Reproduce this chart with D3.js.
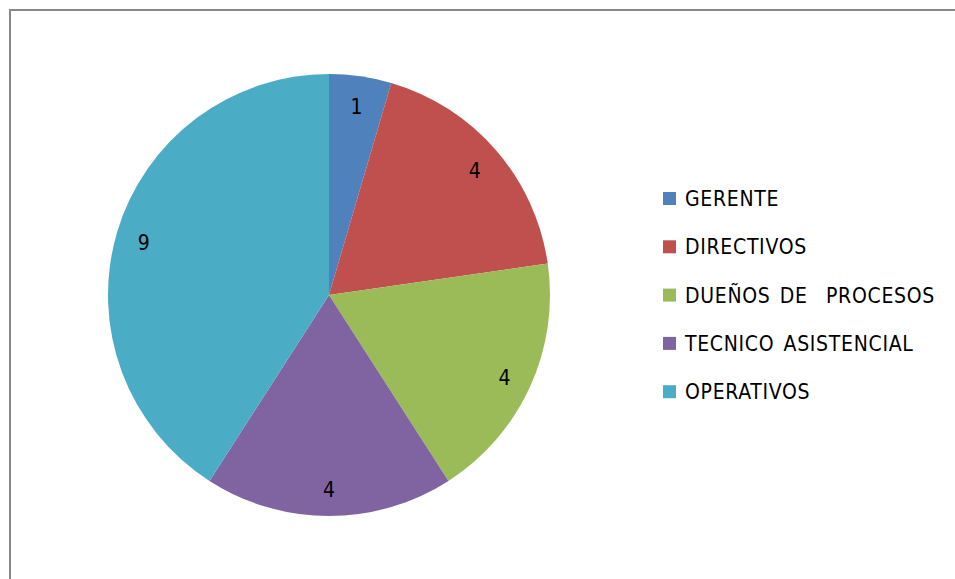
<!DOCTYPE html>
<html>
<head>
<meta charset="utf-8">
<script src="https://cdn.jsdelivr.net/npm/d3@7"></script>
<style>
  html, body { margin: 0; padding: 0; background: #fff; }
  svg { display: block; }
  text { font-family: "DejaVu Sans Condensed", "DejaVu Sans", sans-serif; font-stretch: condensed; fill: #000; }
</style>
</head>
<body>
<svg id="chart" width="955" height="579"></svg>
<script>
// Staff distribution by role
const categories = ["GERENTE", "DIRECTIVOS", "DUEÑOS DE  PROCESOS", "TECNICO ASISTENCIAL", "OPERATIVOS"];
const values = [1, 4, 4, 4, 9];
const colors = ["#4F81BD", "#C0504D", "#9BBB59", "#8064A2", "#4BACC6"];

const svg = d3.select("#chart");
const W = 955, H = 579;

// chart frame (runs off the right and bottom edges)
svg.append("rect")
  .attr("x", 10).attr("y", 10)
  .attr("width", W + 20).attr("height", H + 20)
  .attr("fill", "#fff")
  .attr("stroke", "#888").attr("stroke-width", 2);

const cx = 329, cy = 295, r = 221;
const data = categories.map((c, i) => ({ name: c, value: values[i], color: colors[i] }));

const pie = d3.pie().sort(null).value(d => d.value);
const arc = d3.arc().innerRadius(0).outerRadius(r);
const labelArc = d3.arc().innerRadius(r * 0.873).outerRadius(r * 0.873);

const g = svg.append("g").attr("transform", `translate(${cx},${cy})`);
const arcs = pie(data);

g.selectAll("path.slice")
  .data(arcs)
  .join("path")
  .attr("class", "slice")
  .attr("d", arc)
  .attr("fill", d => d.data.color);

g.selectAll("text.val")
  .data(arcs)
  .join("text")
  .attr("class", "val")
  .attr("transform", d => { const [x, y] = labelArc.centroid(d); return `translate(${x},${y + 2})`; })
  .attr("text-anchor", "middle")
  .attr("dy", "0.36em")
  .style("font-size", "21px")
  .text(d => d.data.value);

// legend
const lx = 663, ly = 192, step = 48.3, box = 13;
const leg = svg.append("g");
const items = leg.selectAll("g.item")
  .data(data)
  .join("g")
  .attr("class", "item")
  .attr("transform", (d, i) => `translate(${lx},${ly + i * step})`);
items.append("rect")
  .attr("width", box).attr("height", box)
  .attr("fill", d => d.color);
items.append("text")
  .attr("x", 22).attr("y", box / 2)
  .attr("dy", "0.36em")
  .style("font-size", "21px")
  .style("letter-spacing", "0.7px")
  .style("word-spacing", "2.5px")
  .attr("xml:space", "preserve")
  .text(d => d.name);
</script>
</body>
</html>
